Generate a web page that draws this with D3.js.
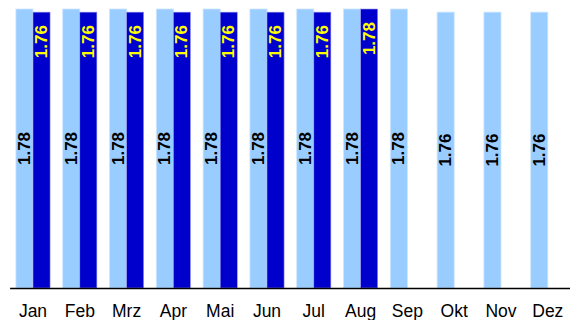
<!DOCTYPE html>
<html lang="de">
<head>
<meta charset="UTF-8">
<title>Monatswerte</title>
<script src="https://d3js.org/d3.v7.min.js"></script>
<style>
  html, body { margin: 0; padding: 0; background: #fff; }
  svg { display: block; font-family: "Liberation Sans", Arial, sans-serif; }
</style>
</head>
<body>
<div id="chart"></div>
<script>
    // Daten
    const months = ["Jan", "Feb", "Mrz", "Apr", "Mai", "Jun", "Jul", "Aug", "Sep", "Okt", "Nov", "Dez"];
    const prevYear = [1.78, 1.78, 1.78, 1.78, 1.78, 1.78, 1.78, 1.78, 1.78, 1.76, 1.76, 1.76];
    const currYear = [1.76, 1.76, 1.76, 1.76, 1.76, 1.76, 1.76, 1.78];

    const width = 570;
    const height = 320;
    const baseY = 288;

    const svg = d3.select("#chart")
        .append("svg")
        .attr("width", width)
        .attr("height", height);

    const x = d3.scaleBand()
        .domain(months)
        .range([9.6, 571.2])
        .paddingInner(0.27)
        .paddingOuter(0.135);

    const bw = x.bandwidth() / 2;

    const y = d3.scaleLinear()
        .domain([0, 1.78])
        .range([baseY, 9]);

    // helle Balken (Vorjahr)
    svg.selectAll("rect.prev")
        .data(prevYear)
        .enter()
        .append("rect")
        .attr("class", "prev")
        .attr("x", (d, i) => x(months[i]))
        .attr("y", d => y(d))
        .attr("width", bw)
        .attr("height", d => baseY - y(d))
        .attr("fill", "#99ccff")
        .attr("stroke", "#cce5ff")
        .attr("stroke-width", 0.8);

    // dunkle Balken (aktuelles Jahr)
    svg.selectAll("rect.curr")
        .data(currYear)
        .enter()
        .append("rect")
        .attr("class", "curr")
        .attr("x", (d, i) => x(months[i]) + bw)
        .attr("y", d => y(d))
        .attr("width", bw)
        .attr("height", d => baseY - y(d))
        .attr("fill", "#0000cc")
        .attr("stroke", "#9999ee")
        .attr("stroke-width", 0.6);

    // Beschriftungen helle Balken (Mitte)
    svg.selectAll("text.prevLbl")
        .data(prevYear)
        .enter()
        .append("text")
        .attr("class", "prevLbl")
        .attr("transform", (d, i) => {
            const cx = x(months[i]) + bw / 2;
            const cy = (y(d) + baseY) / 2;
            return `translate(${cx},${cy}) rotate(-90)`;
        })
        .attr("text-anchor", "middle")
        .attr("dominant-baseline", "central")
        .attr("font-size", 17)
        .attr("font-weight", "bold")
        .attr("fill", "#000")
        .text(d => d.toFixed(2));

    // Beschriftungen dunkle Balken (oben)
    svg.selectAll("text.currLbl")
        .data(currYear)
        .enter()
        .append("text")
        .attr("class", "currLbl")
        .attr("transform", (d, i) => {
            const cx = x(months[i]) + bw * 1.5;
            const cy = y(d) + 13;
            return `translate(${cx},${cy}) rotate(-90)`;
        })
        .attr("text-anchor", "end")
        .attr("dominant-baseline", "central")
        .attr("font-size", 17)
        .attr("font-weight", "bold")
        .attr("fill", "#ffff00")
        .text(d => d.toFixed(2));

    // x-Achse
    const xAxis = d3.axisBottom(x)
        .tickSize(0)
        .tickSizeOuter(0)
        .tickPadding(17);

    const gx = svg.append("g")
        .attr("transform", `translate(0,${baseY})`)
        .call(xAxis);

    gx.select(".domain")
        .attr("stroke", "#000")
        .attr("stroke-width", 1.5);

    gx.selectAll("text")
        .attr("font-family", "'Liberation Sans', Arial, sans-serif")
        .attr("font-size", 17.5)
        .attr("fill", "#000");
</script>
</body>
</html>
